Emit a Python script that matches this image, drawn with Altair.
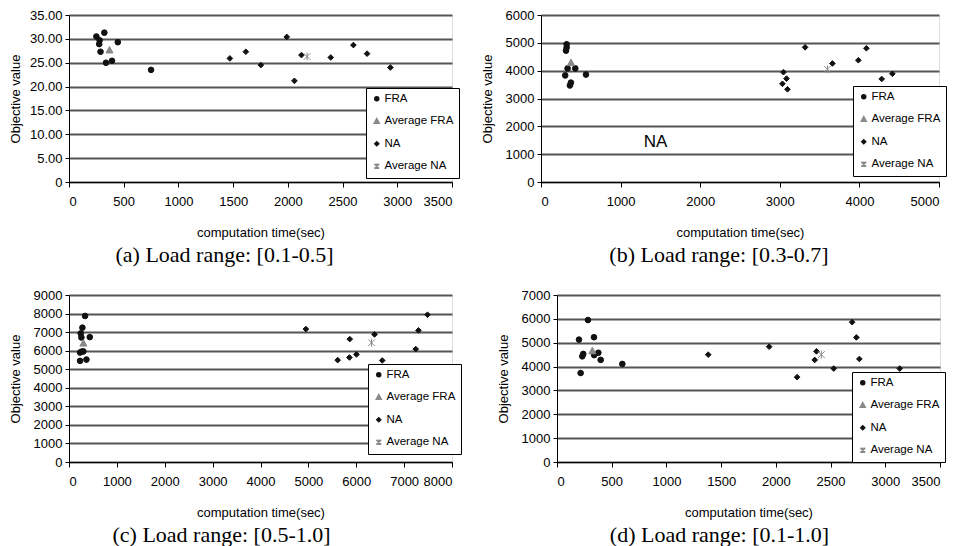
import altair as alt
import pandas as pd

SERIES = ["FRA", "Average FRA", "NA", "Average NA"]

# ---------- panel (a) : load range [0.1-0.5] ----------
A_FRA_T = [250, 323, 280, 276, 288, 338, 393, 446, 750]
A_FRA_V = [30.5, 31.3, 29.7, 28.9, 27.3, 25.0, 25.4, 29.3, 23.5]
A_AVGFRA_T = [370]
A_AVGFRA_V = [27.6]
A_NA_T = [1470, 1616, 1753, 1990, 2060, 2124, 2392, 2599, 2724, 2937]
A_NA_V = [25.9, 27.3, 24.5, 30.4, 21.2, 26.6, 26.1, 28.7, 26.9, 24.0]
A_AVGNA_T = [2176]
A_AVGNA_V = [26.3]

# ---------- panel (b) : load range [0.3-0.7] ----------
B_FRA_T = [322, 322, 314, 334, 304, 363, 376, 431, 565]
B_FRA_V = [4950, 4830, 4720, 4080, 3830, 3470, 3570, 4080, 3860]
B_AVGFRA_T = [377]
B_AVGFRA_V = [4280]
B_NA_T = [3046, 3084, 3033, 3096, 3318, 3661, 3987, 4088, 4280, 4414]
B_NA_V = [3946, 3714, 3528, 3331, 4839, 4259, 4375, 4804, 3702, 3888]
B_AVGNA_T = [3598]
B_AVGNA_V = [4050]
B_NOTE_T = [1440]
B_NOTE_V = [1450]
B_NOTE_TEXT = ["NA"]

# ---------- panel (c) : load range [0.5-1.0] ----------
C_FRA_T = [336, 280, 245, 259, 434, 231, 262, 300, 231, 364]
C_FRA_V = [7870, 7240, 6930, 6710, 6730, 5900, 5950, 5960, 5450, 5520]
C_AVGFRA_T = [301]
C_AVGFRA_V = [6390]
C_NA_T = [4948, 5612, 5864, 5857, 6004, 6382, 6543, 7243, 7299, 7488]
C_NA_V = [7164, 5490, 6624, 5634, 5796, 6876, 5472, 6084, 7092, 7938]
C_AVGNA_T = [6319]
C_AVGNA_V = [6426]

# ---------- panel (d) : load range [0.1-1.0] ----------
D_FRA_T = [201, 283, 338, 240, 231, 340, 378, 399, 597, 216]
D_FRA_V = [5130, 5950, 5230, 4530, 4430, 4480, 4580, 4280, 4110, 3730]
D_AVGFRA_T = [323]
D_AVGFRA_V = [4650]
D_NA_T = [1382, 1939, 2194, 2355, 2371, 2529, 2697, 2736, 2763, 3132]
D_NA_V = [4500, 4833, 3556, 4278, 4639, 3917, 5861, 5222, 4319, 3917]
D_AVGNA_T = [2416]
D_AVGNA_V = [4500]

CAPTIONS = ["(a) Load range: [0.1-0.5]", "(b) Load range: [0.3-0.7]",
            "(c) Load range: [0.5-1.0]", "(d) Load range: [0.1-1.0]"]

FONT = "Liberation Sans"
SERIF = "Liberation Serif"

STAR = "M-1.2,-1.2L1.2,1.2M-1.2,1.2L1.2,-1.2M0,-1.4L0,1.4"
TRI = "M0,-1.35L1.25,0.95L-1.25,0.95Z"
SHAPES = ["circle", TRI, "diamond", STAR]
FILLS = ["#111111", "#8a8a8a", "#111111", "#8a8a8a"]
STROKES = ["#111111", "#8a8a8a", "#111111", "#8a8a8a"]


def make_df(groups):
    rows = []
    for name, ts, vs in groups:
        for t, v in zip(ts, vs):
            rows.append({"t": t, "v": v, "series": name})
    return pd.DataFrame(rows)


def panel(df, xmax, xstep, ymax, ystep, yfmt, w, h, lx, ly, caption, cap_dx, note=None):
    leg = alt.Legend(title=None, orient="none", legendX=lx, legendY=ly,
                     strokeColor="black", fillColor="white", padding=5,
                     rowPadding=9.5, labelFont=FONT, labelFontSize=11.5,
                     labelColor="black", symbolSize=16, labelOffset=2,
                     cornerRadius=0, direction="vertical")
    x = alt.X("t:Q", scale=alt.Scale(domain=[0, xmax], nice=False),
              axis=alt.Axis(values=list(range(0, xmax + 1, xstep)), format="d",
                            labelOverlap=False,
                            title="computation time(sec)", grid=False,
                            tickSize=5, labelPadding=8, titlePadding=18,
                            titleFontWeight="normal", titleFont=FONT,
                            titleFontSize=13, labelFont=FONT, labelFontSize=13,
                            labelColor="black", titleColor="black",
                            domainColor="black", tickColor="black"))
    yvals = [round(i * ystep, 2) for i in range(int(round(ymax / ystep)) + 1)]
    y = alt.Y("v:Q", scale=alt.Scale(domain=[0, ymax], nice=False),
              axis=alt.Axis(values=yvals, labelExpr=yfmt, labelOverlap=False,
                            title="Objective value",
                            grid=True, gridColor="#555555", gridWidth=2,
                            tickSize=4, labelPadding=3, titleX=-54,
                            titleBaseline="middle",
                            titleFontWeight="normal", titleFont=FONT,
                            titleFontSize=13, labelFont=FONT, labelFontSize=13,
                            labelColor="black", titleColor="black",
                            domainColor="black", tickColor="black"))
    pts = alt.Chart(df).mark_point(filled=False, opacity=1, strokeWidth=1, size=32).encode(
        x=x, y=y,
        fill=alt.Fill("series:N", scale=alt.Scale(domain=SERIES, range=FILLS), legend=leg),
        stroke=alt.Stroke("series:N", scale=alt.Scale(domain=SERIES, range=STROKES), legend=leg),
        shape=alt.Shape("series:N", scale=alt.Scale(domain=SERIES, range=SHAPES), legend=leg),
    )
    ch = pts
    if note is not None:
        txt = alt.Chart(note).mark_text(font=FONT, fontSize=17, color="black").encode(
            x=x, y=y, text="label:N")
        ch = alt.layer(pts, txt)
    return ch.properties(
        width=w, height=h,
        title=alt.TitleParams(caption, orient="bottom", anchor="middle", frame="group",
                              font=SERIF, fontSize=22, fontWeight="normal",
                              color="black", offset=6, dx=cap_dx))


df_a = make_df([("FRA", A_FRA_T, A_FRA_V), ("Average FRA", A_AVGFRA_T, A_AVGFRA_V),
                ("NA", A_NA_T, A_NA_V), ("Average NA", A_AVGNA_T, A_AVGNA_V)])
df_b = make_df([("FRA", B_FRA_T, B_FRA_V), ("Average FRA", B_AVGFRA_T, B_AVGFRA_V),
                ("NA", B_NA_T, B_NA_V), ("Average NA", B_AVGNA_T, B_AVGNA_V)])
df_c = make_df([("FRA", C_FRA_T, C_FRA_V), ("Average FRA", C_AVGFRA_T, C_AVGFRA_V),
                ("NA", C_NA_T, C_NA_V), ("Average NA", C_AVGNA_T, C_AVGNA_V)])
df_d = make_df([("FRA", D_FRA_T, D_FRA_V), ("Average FRA", D_AVGFRA_T, D_AVGFRA_V),
                ("NA", D_NA_T, D_NA_V), ("Average NA", D_AVGNA_T, D_AVGNA_V)])
note_b = pd.DataFrame({"t": B_NOTE_T, "v": B_NOTE_V, "label": B_NOTE_TEXT})

int_fmt = "format(datum.value, 'd')"
dec_fmt = "datum.value == 0 ? '0' : format(datum.value, '.2f')"

pa = panel(df_a, 3500, 500, 35, 5, dec_fmt, 383, 167, 297, 73, CAPTIONS[0], -36)
pb = panel(df_b, 5000, 1000, 6000, 1000, int_fmt, 398, 167, 312, 71, CAPTIONS[1], -21, note_b)
pc = panel(df_c, 8000, 1000, 9000, 1000, int_fmt, 383, 167, 299, 69, CAPTIONS[2], -39)
pd_ = panel(df_d, 3500, 500, 7000, 1000, int_fmt, 383, 167, 295, 77, CAPTIONS[3], -29)


def res(c):
    return c.resolve_scale(x="independent", y="independent", fill="independent",
                           stroke="independent", shape="independent").resolve_legend(
        fill="independent", stroke="independent", shape="independent")


row1 = res(alt.hconcat(pa, pb, spacing=89, bounds="flush"))
row2 = res(alt.hconcat(pc, pd_, spacing=105, bounds="flush"))
chart = res(alt.vconcat(row1, row2, spacing=21)).properties(
    padding={"left": 0, "top": 0, "right": 0, "bottom": 0}
).configure_view(stroke=None).configure(background="white")

chart.save("out.html", embed_options={"renderer": "svg", "actions": False})
